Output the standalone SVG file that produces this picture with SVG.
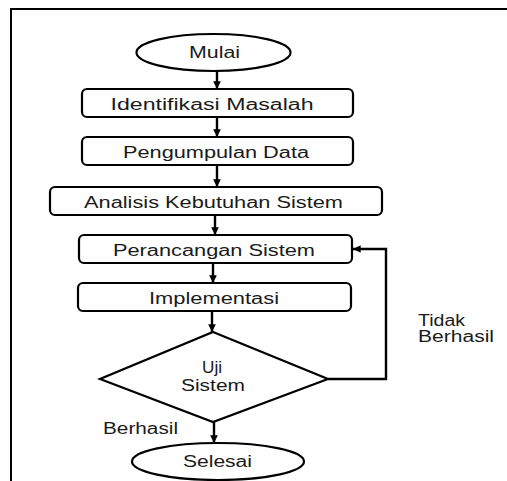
<svg xmlns="http://www.w3.org/2000/svg" width="507" height="481" viewBox="0 0 507 481">
<style>
.box{fill:#fff;stroke:#000;stroke-width:2.2}
.t{font-family:"Liberation Sans",Arial,sans-serif;font-size:16px;fill:#1a1a1a;text-anchor:middle}
.l{font-family:"Liberation Sans",Arial,sans-serif;font-size:16px;fill:#1a1a1a}
.c{fill:none;stroke:#000;stroke-width:2.4}
</style>
<defs>
<marker id="ah" viewBox="0 0 10 10" refX="10" refY="5" markerWidth="3.2" markerHeight="3.2" orient="auto" markerUnits="strokeWidth">
<path d="M0,0 L10,5 L0,10 z" fill="#000"/>
</marker>
</defs>
<rect width="507" height="481" fill="#fff"/>
<path d="M11,481 V9 H507" fill="none" stroke="#000" stroke-width="2"/>
<g id="connectors">
<line class="c" x1="217" y1="71" x2="217" y2="89" marker-end="url(#ah)"/>
<line class="c" x1="217" y1="117" x2="217" y2="137" marker-end="url(#ah)"/>
<line class="c" x1="217" y1="165" x2="217" y2="187" marker-end="url(#ah)"/>
<line class="c" x1="215" y1="215" x2="215" y2="235" marker-end="url(#ah)"/>
<line class="c" x1="213" y1="263" x2="213" y2="283" marker-end="url(#ah)"/>
<line class="c" x1="212" y1="311" x2="212" y2="332" marker-end="url(#ah)"/>
<line class="c" x1="214" y1="422" x2="214" y2="443" marker-end="url(#ah)"/>
<polyline class="c" points="328,379 386,379 386,249 353,249" marker-end="url(#ah)"/>
</g>
<g id="mulai">
<ellipse class="box" cx="213.5" cy="52.5" rx="77" ry="18.5"/>
<text class="t" x="214.5" y="58" textLength="51" lengthAdjust="spacingAndGlyphs">Mulai</text>
</g>
<g id="identifikasi">
<rect class="box" x="82" y="89" width="271" height="28" rx="5"/>
<text class="t" x="212" y="110" textLength="203" lengthAdjust="spacingAndGlyphs">Identifikasi Masalah</text>
</g>
<g id="pengumpulan">
<rect class="box" x="82" y="137" width="271" height="28" rx="5"/>
<text class="t" x="216" y="158" textLength="186" lengthAdjust="spacingAndGlyphs">Pengumpulan Data</text>
</g>
<g id="analisis">
<rect class="box" x="50" y="187" width="332" height="28" rx="5"/>
<text class="t" x="213.5" y="208" textLength="259" lengthAdjust="spacingAndGlyphs">Analisis Kebutuhan Sistem</text>
</g>
<g id="perancangan">
<rect class="box" x="79" y="235" width="273" height="28" rx="5"/>
<text class="t" x="214" y="256" textLength="202" lengthAdjust="spacingAndGlyphs">Perancangan Sistem</text>
</g>
<g id="implementasi">
<rect class="box" x="78" y="283" width="273" height="28" rx="5"/>
<text class="t" x="214" y="304" textLength="130" lengthAdjust="spacingAndGlyphs">Implementasi</text>
</g>
<g id="uji">
<polygon class="box" points="213,332 328,379 213,422 100,379"/>
<text class="t" x="212" y="373" textLength="20" lengthAdjust="spacingAndGlyphs">Uji</text>
<text class="t" x="213" y="391" textLength="64" lengthAdjust="spacingAndGlyphs">Sistem</text>
</g>
<g id="selesai">
<ellipse class="box" cx="218" cy="461.5" rx="86" ry="18.5"/>
<text class="t" x="217.5" y="467" textLength="69" lengthAdjust="spacingAndGlyphs">Selesai</text>
</g>
<g id="labels">
<text class="l" x="418" y="326" textLength="47" lengthAdjust="spacingAndGlyphs">Tidak</text>
<text class="l" x="418" y="342" textLength="76" lengthAdjust="spacingAndGlyphs">Berhasil</text>
<text class="l" x="103" y="434" textLength="75" lengthAdjust="spacingAndGlyphs">Berhasil</text>
</g>
</svg>
